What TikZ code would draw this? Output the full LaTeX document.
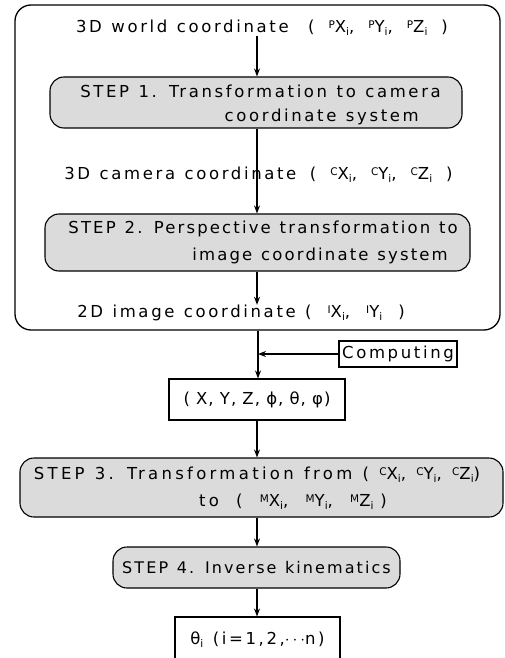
\documentclass[tikz,border=0pt]{standalone}
\usepackage{fontspec}
\setmainfont{DejaVu Sans}[LetterSpace=16,WordSpace=1.2]
\newfontfamily\wideB{DejaVu Sans}[LetterSpace=20,WordSpace=1.2]
\newfontfamily\midA{DejaVu Sans}[LetterSpace=13,WordSpace=1.2]
\newfontfamily\narrowA{DejaVu Sans}[LetterSpace=6,WordSpace=1.0]
\usetikzlibrary{arrows.meta,calc}
\newcommand{\sps}[1]{\raisebox{4.5pt}{\fontsize{10.5}{10}\selectfont #1}}
\newcommand{\sbi}{\raisebox{-3pt}{\fontsize{10.5}{10}\selectfont i}}
\newcommand{\gp}{\hspace{14pt}}
\newcommand{\gq}{\hspace{16pt}}
\begin{document}
\begin{tikzpicture}[x=1pt,y=-1pt,
  every node/.style={font=\fontsize{16.5}{19}\selectfont, inner sep=0pt},
  stepbox/.style={draw, line width=1.1pt, rounded corners=14pt, fill=gray!28},
  plainbox/.style={draw, line width=1.1pt, fill=white},
  arr/.style={-{Stealth[length=8pt,width=6pt]}, line width=1.1pt},
  lbl/.style={anchor=center}]
\useasboundingbox (0,0) rectangle (504,658);
% outer frame
\node[draw, line width=1.3pt, rounded corners=16pt, minimum width=485pt, minimum height=325pt] (outer) at (257.5,167.5) {};
% texts
\node[lbl] (t1) at (262,28) {3D world coordinate \hspace{10pt}(\gp\sps{P}X\sbi,\gp\sps{P}Y\sbi,\gp\sps{P}Z\sbi\gp)};
\node[stepbox, minimum width=412pt, minimum height=51pt] (s1) at (256,102.5) {};
\node[lbl, anchor=east] (s1a) at (441,91) {STEP 1. Transformation to camera};
\node[lbl, anchor=east] (s1b) at (419,117) {coordinate system};
\node[lbl] (t2) at (258.5,175) {3D camera coordinate \hspace{4pt}(\gp\sps{C}X\sbi,\gp\sps{C}Y\sbi,\gp\sps{C}Z\sbi\gp)};
\node[stepbox, minimum width=425pt, minimum height=57pt] (s2) at (257.5,242.5) {};
\node[lbl, anchor=east, font=\midA\fontsize{16.5}{19}\selectfont] (s2a) at (458,229) {STEP 2. Perspective transformation to};
\node[lbl, anchor=east, font=\midA\fontsize{16.5}{19}\selectfont] (s2b) at (448,256) {image coordinate system};
\node[lbl] (t3) at (241,313) {2D image coordinate (\gq\sps{I}X\sbi,\gq\sps{I}Y\sbi\gq)};
% lower part
\node[plainbox, minimum width=118pt, minimum height=26pt] (comp) at (398,354) {Computing};
\node[plainbox, minimum width=176pt, minimum height=41pt, font=\narrowA\fontsize{16.5}{19}\selectfont] (xyz) at (257,399.5) {( X, Y, Z, ϕ, θ, φ)};
\node[stepbox, minimum width=483pt, minimum height=59pt] (s3) at (261.5,487.5) {};
\node[lbl, font=\wideB\fontsize{16.5}{19}\selectfont] (s3a) at (257,475) {STEP 3. Transformation from ( \sps{C}X\sbi, \sps{C}Y\sbi, \sps{C}Z\sbi )};
\node[lbl, font=\wideB\fontsize{16.5}{19}\selectfont] (s3b) at (293,502) {to \hspace{7pt}( \hspace{7pt}\sps{M}X\sbi, \hspace{7pt}\sps{M}Y\sbi, \hspace{7pt}\sps{M}Z\sbi \hspace{7pt})};
\node[stepbox, minimum width=287pt, minimum height=41pt, font=\midA\fontsize{16}{19}\selectfont] (s4) at (256.5,567.5) {STEP 4. Inverse kinematics};
\node[plainbox, minimum width=165pt, minimum height=46pt] (fin) at (257.5,640) {θ\sbi\ (i=1,2,$\cdots$n)};
% connectors
\coordinate (j) at (258,354);
\draw[arr] (t1.south -| 257,0) -- (257,0 |- s1.north);
\draw[arr] (257,0 |- s1.south) -- (257,0 |- s2.north);
\draw[arr] (257,0 |- s2.south) -- (257,0 |- t3.north);
\draw[arr] (258,0 |- outer.south) -- (258,0 |- xyz.north);
\draw[arr] (comp.west) -- (j);
\draw[arr] (257,0 |- xyz.south) -- (257,0 |- s3.north);
\draw[arr] (257,0 |- s3.south) -- (257,0 |- s4.north);
\draw[arr] (257,0 |- s4.south) -- (257,0 |- fin.north);
\end{tikzpicture}
\end{document}
